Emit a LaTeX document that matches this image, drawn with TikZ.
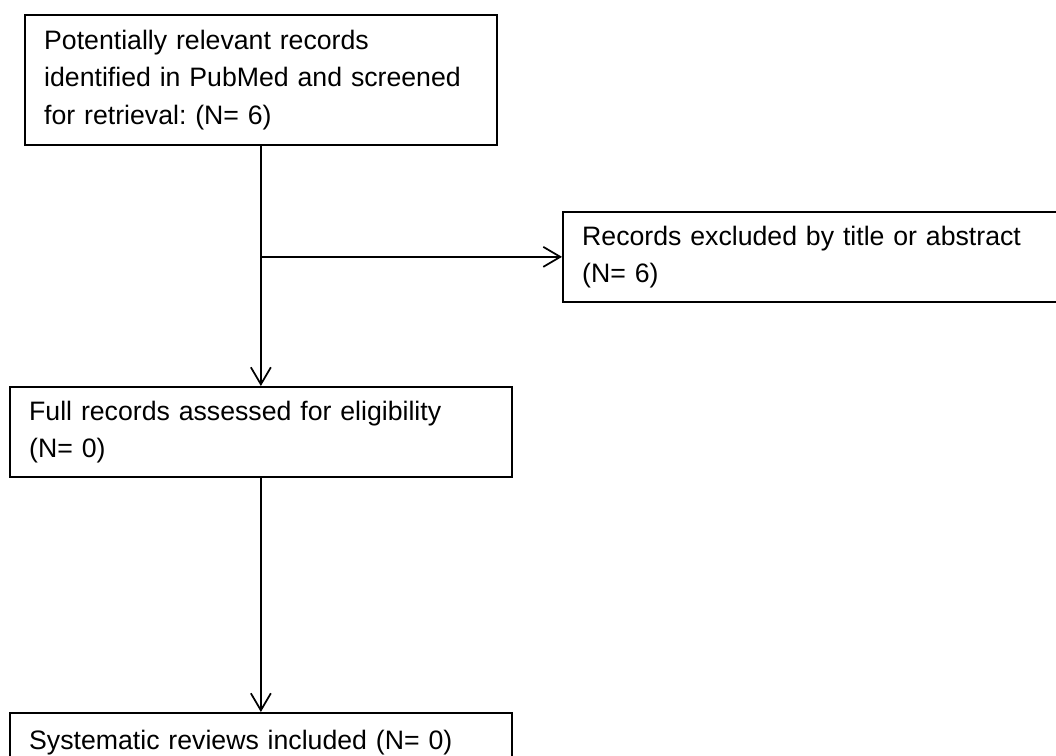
\documentclass[tikz,border=0pt]{standalone}
\usepackage{fontspec}
\setmainfont{Liberation Sans}
\usetikzlibrary{arrows.meta}
\frenchspacing
\tikzset{
  box/.style={draw=black, line width=1.3pt, rectangle, anchor=north west, align=left,
    inner xsep=14.5pt, inner ysep=0pt, font=\fontsize{20pt}{28pt}\selectfont\frenchspacing},
  conn/.style={draw=black, line width=1.3pt, -{Straight Barb[length=12.75pt,width=15pt]}}
}
\begin{document}
\begin{tikzpicture}[x=0.75pt,y=-0.75pt]
\useasboundingbox (0,0) rectangle (1056,756);
\clip (0,0) rectangle (1056,756);
\node[box, text width=325pt, minimum height=97.5pt] (top) at (24,14)
  {Potentially relevant records\\identified in PubMed and screened\\for retrieval: (N= 6)};
\node[box, text width=361pt, minimum height=67.5pt] (excl) at (562,211)
  {Records excluded by title or abstract\\(N= 6)};
\node[box, text width=347.5pt, minimum height=67.5pt] (full) at (9,386)
  {Full records assessed for eligibility\\(N= 0)};
\node[box, text width=347.5pt, minimum height=45pt] (incl) at (9,712)
  {Systematic reviews included (N= 0)};
\coordinate (br) at (top.south |- excl.west);
\draw[conn] (top.south) -- (top.south |- full.north);
\draw[conn] (br) -- (excl.west);
\draw[conn] (full.south) -- (full.south |- incl.north);
\end{tikzpicture}
\end{document}
